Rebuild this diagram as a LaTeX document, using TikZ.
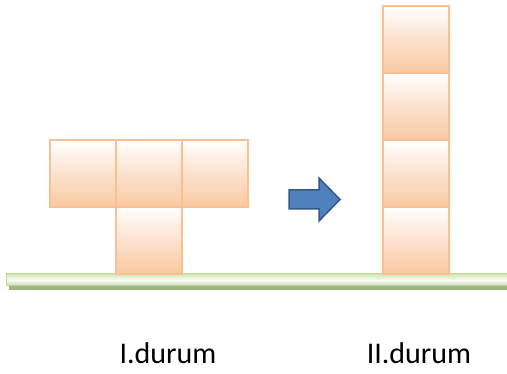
\documentclass[tikz,border=0pt]{standalone}
\usepackage{fontspec}
\setmainfont{Carlito}
\begin{document}
\begin{tikzpicture}[x=1pt,y=-1pt,
  cell/.style={draw=boxline, line width=2pt, inner sep=0pt, outer sep=0pt,
    minimum width=66pt, minimum height=67pt,
    top color=white, bottom color=boxfill, middle color=boxmid},
  lbl/.style={font=\fontsize{30}{33}\selectfont, text=black, inner sep=0pt, anchor=base}]
\definecolor{boxline}{RGB}{250,192,145}
\definecolor{boxfill}{RGB}{249,200,160}
\definecolor{boxmid}{RGB}{252,225,205}
\definecolor{barline}{RGB}{190,216,150}
\definecolor{barshadow}{RGB}{160,182,130}
\definecolor{barfill}{RGB}{210,230,180}
\definecolor{arrowfill}{RGB}{79,129,189}
\definecolor{arrowline}{RGB}{52,88,135}
\useasboundingbox (0,0) rectangle (507,374);
% ground bar
\fill[barshadow] (9,280) rectangle (510,290);
\shade[top color=barfill, bottom color=barfill!85!gray, middle color=white!88!barfill, draw=barline, line width=1pt]
  (6,274) rectangle (510,286);
% left T
\node[cell] (a1) at (82.5,174) {};
\node[cell] (a2) at (148.5,174) {};
\node[cell] (a3) at (214.5,174) {};
\node[cell] (a4) at (148.5,241) {};
% right column
\node[cell] (b1) at (416,40) {};
\node[cell] (b2) at (416,107) {};
\node[cell] (b3) at (416,174) {};
\node[cell] (b4) at (416,241) {};
% block arrow
\filldraw[fill=arrowfill, draw=arrowline, line width=1.5pt, line join=miter]
  (289,190) -- (319,190) -- (319,178) -- (340,199.5) -- (319,221) -- (319,209) -- (289,209) -- cycle;
% labels
\node[lbl] (l1) at (168,364) {I.durum};
\node[lbl] (l2) at (419,364) {II.durum};
\end{tikzpicture}
\end{document}
